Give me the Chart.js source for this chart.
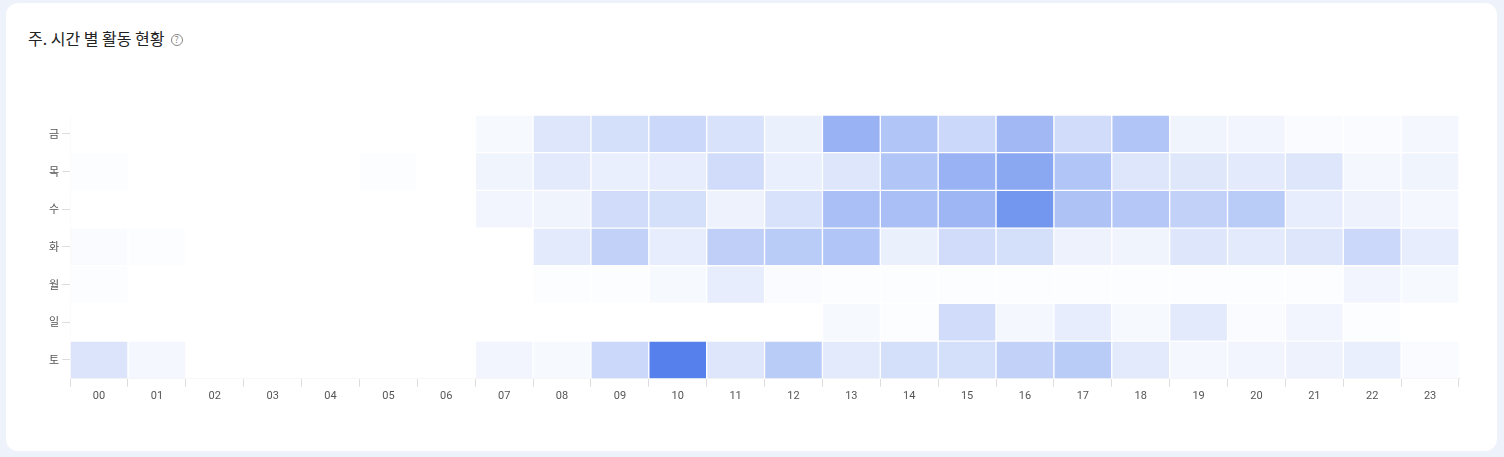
<!DOCTYPE html><html><head><meta charset="utf-8">
<script src="https://cdn.jsdelivr.net/npm/chart.js@4"></script>
<style>
body{margin:0;background:#eef3fb;width:1504px;height:457px;overflow:hidden;font-family:Roboto,"Noto Sans CJK KR",sans-serif}
.card{position:absolute;left:6px;top:3px;width:1491px;height:448px;background:#fff;border-radius:12px}
.title{position:absolute;left:22px;top:23px;font-size:16px;font-weight:400;color:#222;font-family:"Noto Sans CJK KR",sans-serif}
.q{display:inline-block;width:10px;height:10px;border:1px solid #888;border-radius:50%;font-size:9px;line-height:10px;text-align:center;color:#888;vertical-align:2px;margin-left:6px}
.wrap{position:absolute;left:0;top:100px;width:1491px;height:303px}
</style></head><body>
<div class="card"><div class="title">주. 시간 별 활동 현황<span class="q">?</span></div>
<div class="wrap"><canvas id="c"></canvas></div></div>
<script>
const hours=["00","01","02","03","04","05","06","07","08","09","10","11","12","13","14","15","16","17","18","19","20","21","22","23"];
const days=["토","일","월","화","수","목","금"];
const sat=[16,4,0,0,0,0,0,5,3,25,100,15,35,12,20,20,30,35,12,4,5,7,9,2];
const sun=[0,0,0,0,0,0,0,0,0,0,0,0,0,3,1,22,4,10,3,12,2,5,1,0];
const mon=[1,0,0,0,0,0,0,0,1,1,3,10,2,1,1,1,1,1,1,1,1,1,5,3];
const tue=[2,1,0,0,0,0,0,0,12,30,10,32,35,40,8,22,20,7,6,15,12,15,25,10];
const wed=[0,0,0,0,0,0,0,5,6,22,20,7,18,45,45,52,80,42,38,30,35,10,7,4];
const thu=[1,0,0,0,0,1,0,6,12,9,10,22,9,15,40,55,65,40,15,14,12,15,4,6];
const fri=[0,0,0,0,0,0,0,3,15,20,25,18,8,55,40,25,50,22,40,6,5,2,2,4];
const rows=[sat,sun,mon,tue,wed,thu,fri];
const datasets=rows.map((r,i)=>({label:days[i],data:r.map(()=>1),
 backgroundColor:r.map(v=>`rgba(86,128,235,${Math.pow(v/100,0.85).toFixed(3)})`),
 borderColor:'#fff',borderWidth:1,borderSkipped:false,barPercentage:1,categoryPercentage:1}));
new Chart(document.getElementById('c'),{type:'bar',data:{labels:hours,datasets},
options:{responsive:true,maintainAspectRatio:false,animation:false,
 layout:{padding:{left:40,right:38,top:12,bottom:0}},
 plugins:{legend:{display:false},tooltip:{enabled:false}},
 scales:{
  x:{stacked:true,grid:{display:true,drawOnChartArea:false,color:'#ddd',offset:true,tickLength:8},border:{color:'#ddd'},
     ticks:{color:'#555',font:{size:11,family:'Roboto'}}},
  y:{stacked:true,min:0,max:7,grid:{drawOnChartArea:false,color:'#ddd',tickLength:8},border:{color:'#ddd'},
     afterBuildTicks:s=>{s.ticks=days.map((d,i)=>({value:i+0.5}));},
     ticks:{color:'#555',font:{size:11,family:'"Noto Sans CJK KR"'},callback:(v)=>days[Math.floor(v)]}}
 }}});
</script></body></html>
